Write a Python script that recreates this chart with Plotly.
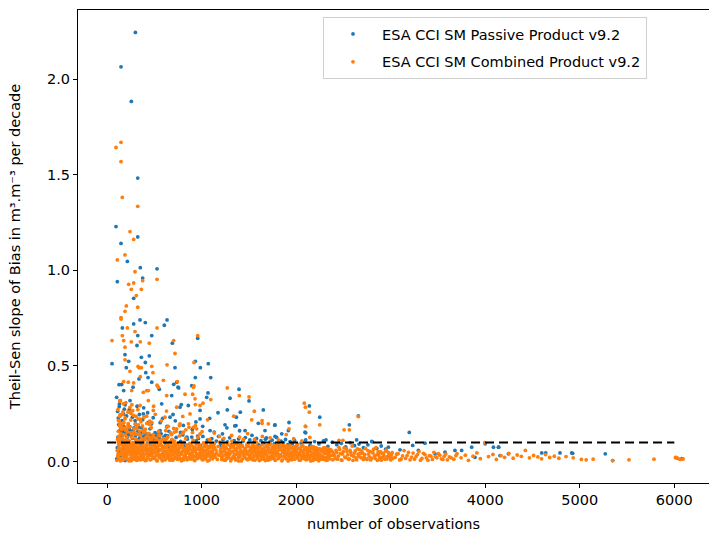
import plotly.graph_objects as go

# ---------------- data ----------------
# ESA CCI SM Passive Product v9.2 (blue)
passive_n_high = [300, 148, 257, 325, 95, 325, 148, 215, 352, 529, 377, 109, 282, 349, 282, 405, 635, 606, 162, 325,
                  473, 691, 959, 317, 190, 363, 447, 229, 405, 934, 1071, 53, 204, 719, 987, 410, 434, 934, 1097, 127,
                  338, 705, 758, 553, 1396, 176, 1068, 1301, 1502, 2140, 786, 1174, 1272, 1410, 1368, 1653, 1925, 1774, 2101, 2250,
                  2658, 2563, 3197, 155, 275, 473, 737, 896, 751, 684, 860, 772, 984, 578, 1054, 243, 102, 173, 384, 437,
                  666, 984, 331, 561, 155, 1248, 1364, 1600, 2094, 1848, 1918, 1090, 1460, 1671, 1777]
passive_s_high = [2.245, 2.065, 1.884, 1.483, 1.229, 1.175, 1.141, 1.047, 1.014, 1.008, 0.960, 0.941, 0.854, 0.741, 0.720, 0.727, 0.741, 0.713, 0.699, 0.659,
                  0.659, 0.619, 0.645, 0.607, 0.559, 0.545, 0.553, 0.524, 0.518, 0.524, 0.512, 0.512, 0.491, 0.491, 0.491, 0.465, 0.439, 0.439, 0.439, 0.402,
                  0.432, 0.404, 0.385, 0.378, 0.378, 0.371, 0.359, 0.331, 0.317, 0.291, 0.298, 0.255, 0.270, 0.258, 0.232, 0.270, 0.204, 0.190, 0.150, 0.232,
                  0.238, 0.192, 0.152, 0.403, 0.389, 0.415, 0.415, 0.397, 0.389, 0.345, 0.293, 0.284, 0.267, 0.302, 0.336, 0.319, 0.336, 0.249, 0.249, 0.205,
                  0.232, 0.223, 0.179, 0.162, 0.136, 0.192, 0.188, 0.200, 0.153, 0.145, 0.162, 0.162, 0.162, 0.162, 0.192]

passive_n_mid = [112, 163, 131, 228, 119, 297, 146, 388, 174, 255,
                 137, 471, 204, 342, 124, 589, 183, 276, 158, 430,
                 241, 655, 192, 512, 365, 149, 722, 318, 216, 455,
                 807, 268, 541, 129, 903, 377, 618, 235, 1012, 488,
                 168, 698, 301, 1134, 412, 845, 562, 1268, 207, 958,
                 1402, 634, 1086, 1533, 778, 1221, 1687, 1351, 940, 1777]
passive_s_mid = [0.262, 0.188, 0.301, 0.143, 0.227, 0.214, 0.176, 0.281, 0.249, 0.156,
                 0.318, 0.197, 0.139, 0.246, 0.193, 0.226, 0.274, 0.163, 0.214, 0.255,
                 0.182, 0.158, 0.297, 0.134, 0.177, 0.245, 0.213, 0.289, 0.152, 0.171,
                 0.189, 0.232, 0.149, 0.287, 0.168, 0.219, 0.137, 0.271, 0.184, 0.229,
                 0.158, 0.246, 0.197, 0.154, 0.142, 0.128, 0.203, 0.176, 0.238, 0.133,
                 0.161, 0.184, 0.226, 0.137, 0.152, 0.145, 0.124, 0.186, 0.207, 0.131]

passive_n_band = [102, 109, 116, 125, 133, 141, 148, 157, 165, 172, 180, 189, 197, 204, 213, 221, 228, 236, 245, 253,
                  261, 270, 277, 285, 294, 302, 310, 319, 327, 335, 344, 352, 360, 369, 377, 386, 394, 402, 411, 419,
                  428, 437, 446, 455, 463, 472, 481, 490, 499, 508, 517, 526, 536, 545, 554, 563, 572, 581, 590, 600,
                  618, 641, 662, 687, 709, 731, 755, 778, 802, 826, 849, 873, 896, 919, 943, 967, 990, 1014, 1038, 1061,
                  1085, 1108, 1132, 1156, 1179, 1203, 1226, 1250, 1274, 1297, 1321, 1345, 1368, 1392, 1416, 1439, 1463, 1486, 1510, 1534,
                  1557, 1581, 1605, 1628, 1652, 1676, 1699, 1723, 1747, 1770, 1794, 1818, 1841, 1865, 1888, 1912, 1936, 1959, 1983, 2007,
                  2054, 2101, 2148, 2195, 2242, 2289, 2336, 2383, 2430, 2477, 2524, 2571, 2618, 2665, 2712, 2759, 2806, 2853, 2900, 2947,
                  105, 138, 190, 261, 473, 754, 860, 984, 3293, 3469, 3575, 3680, 3751, 3857, 3892, 4000, 4087, 4140, 4156, 4245,
                  4143, 4598, 4640, 4791, 4915, 4925, 5270, 5348, 2870, 2975, 3099, 3233, 3363, 2316, 2640, 2800, 6020, 6080]
passive_s_band = [0.014, 0.072, 0.128, 0.043, 0.161, 0.098, 0.027, 0.143, 0.117, 0.061, 0.182, 0.089, 0.152, 0.034, 0.127, 0.074, 0.106, 0.168, 0.052, 0.139,
                  0.084, 0.121, 0.047, 0.176, 0.099, 0.136, 0.018, 0.113, 0.158, 0.067, 0.124, 0.092, 0.149, 0.039, 0.107, 0.133, 0.078, 0.118, 0.057, 0.144,
                  0.095, 0.123, 0.061, 0.138, 0.106, 0.083, 0.129, 0.046, 0.112, 0.151, 0.076, 0.104, 0.133, 0.058, 0.121, 0.089, 0.145, 0.109, 0.068, 0.127,
                  0.097, 0.134, 0.074, 0.112, 0.088, 0.126, 0.063, 0.105, 0.139, 0.081, 0.117, 0.092, 0.128, 0.069, 0.108, 0.121, 0.084, 0.131, 0.096, 0.112,
                  0.078, 0.119, 0.093, 0.107, 0.131, 0.086, 0.114, 0.072, 0.102, 0.124, 0.089, 0.109, 0.097, 0.118, 0.083, 0.106, 0.125, 0.091, 0.113, 0.076,
                  0.104, 0.121, 0.087, 0.109, 0.096, 0.117, 0.081, 0.103, 0.112, 0.094, 0.126, 0.085, 0.107, 0.099, 0.115, 0.088, 0.104, 0.093, 0.111, 0.082,
                  0.097, 0.113, 0.085, 0.104, 0.092, 0.108, 0.079, 0.101, 0.088, 0.095, 0.076, 0.099, 0.083, 0.091, 0.072, 0.087, 0.103, 0.069, 0.081, 0.064,
                  0.010, 0.050, 0.005, 0.075, 0.058, 0.049, 0.075, 0.022, 0.058, 0.040, 0.049, 0.058, 0.058, 0.075, 0.022, 0.093, 0.075, 0.075, 0.031, 0.040,
                  0.075, 0.045, 0.045, 0.045, 0.045, 0.043, 0.040, 0.005, 0.040, 0.075, 0.061, 0.084, 0.096, 0.113, 0.113, 0.105, 0.020, 0.015]

# ESA CCI SM Combined Product v9.2 (orange)
combined_n_high = [148, 95, 148, 162, 325, 243, 282, 190, 109, 296, 377, 529, 229, 282, 257, 363, 310, 204, 325, 190,
                   148, 148, 529, 215, 296, 162, 176, 53, 257, 352, 447, 705, 959, 190, 719, 190, 920, 328, 340, 473,
                   635, 243, 363, 486, 352, 176, 282, 596, 744, 913, 920, 529, 1272, 420, 437, 134, 825, 906, 1399, 1502,
                   1097, 2087, 2140, 934, 1015, 1340, 1530, 1558, 1640, 1640, 1706, 1925, 2101, 2098, 2658, 2098, 2250, 2507, 2563, 2454,
                   2495, 225, 261, 384, 543, 631, 931, 437, 173, 349, 737, 490, 243, 984, 878, 613, 190, 473, 772, 137,
                   314, 913, 631, 384, 807, 984]
combined_s_high = [1.670, 1.643, 1.569, 1.382, 1.335, 1.203, 1.162, 1.081, 1.055, 0.993, 0.946, 0.953, 0.927, 0.934, 0.901, 0.901, 0.868, 0.814, 0.807, 0.786,
                   0.753, 0.745, 0.699, 0.699, 0.680, 0.659, 0.633, 0.633, 0.626, 0.626, 0.619, 0.633, 0.659, 0.598, 0.565, 0.532, 0.518, 0.497, 0.490, 0.498,
                   0.506, 0.472, 0.491, 0.465, 0.444, 0.418, 0.411, 0.425, 0.418, 0.388, 0.395, 0.399, 0.385, 0.371, 0.371, 0.317, 0.352, 0.352, 0.345, 0.338,
                   0.324, 0.305, 0.258, 0.298, 0.305, 0.237, 0.218, 0.263, 0.214, 0.200, 0.197, 0.171, 0.183, 0.284, 0.235, 0.185, 0.192, 0.166, 0.166, 0.111,
                   0.111, 0.415, 0.371, 0.362, 0.389, 0.345, 0.328, 0.319, 0.302, 0.293, 0.284, 0.267, 0.258, 0.293, 0.249, 0.232, 0.223, 0.205, 0.197, 0.197,
                   0.188, 0.179, 0.179, 0.162, 0.153, 0.145]

combined_n_mid = [115, 224, 142, 307, 168, 401, 128, 263, 511, 186,
                  352, 155, 629, 242, 448, 199, 287, 736, 137, 574,
                  326, 215, 862, 419, 175, 683, 272, 1006, 493, 147,
                  801, 388, 1135, 254, 935, 549, 1063, 331, 712, 1187]
combined_s_mid = [0.271, 0.198, 0.318, 0.236, 0.259, 0.152, 0.213, 0.297, 0.247, 0.176,
                  0.221, 0.168, 0.264, 0.283, 0.195, 0.308, 0.143, 0.171, 0.244, 0.213,
                  0.271, 0.155, 0.197, 0.237, 0.204, 0.142, 0.266, 0.156, 0.289, 0.181,
                  0.236, 0.163, 0.149, 0.251, 0.188, 0.138, 0.218, 0.192, 0.154, 0.131]

combined_n_band = [104, 118, 123, 131, 139, 146, 152, 160, 167, 171, 178, 186, 193, 199, 205, 212, 219, 224, 231, 238,
                   243, 249, 256, 263, 268, 274, 281, 287, 294, 300, 306, 313, 319, 326, 332, 339, 345, 351, 358, 364,
                   371, 377, 384, 390, 397, 403, 410, 416, 423, 429, 436, 442, 449, 455, 462, 468, 475, 481, 488, 494,
                   501, 507, 514, 520, 527, 533, 540, 546, 553, 559, 566, 572, 579, 585, 592, 598, 121, 135, 149, 163,
                   177, 191, 206, 221, 236, 251, 266, 282, 297, 313, 328, 344, 359, 375, 390, 406, 421, 437, 452, 468,
                   114, 128, 142, 156, 170, 184, 198, 213, 227, 241, 255, 270, 284, 298, 312, 326, 341, 355, 369, 383,
                   604, 611, 617, 624, 630, 637, 643, 650, 656, 663, 669, 676, 682, 689, 695, 702, 708, 715, 721, 728,
                   734, 741, 747, 754, 760, 767, 773, 780, 786, 793, 799, 806, 812, 819, 825, 832, 838, 845, 851, 858,
                   864, 871, 877, 884, 890, 897, 903, 910, 916, 923, 929, 936, 942, 949, 955, 962, 968, 975, 981, 988,
                   994, 1001, 1007, 1014, 1020, 1027, 1034, 1041, 1049, 1056, 1063, 1071, 1078, 1085, 1093, 1100, 1107, 1115, 1122, 1130,
                   1137, 1145, 1152, 1160, 1167, 1175, 1182, 1190, 1197, 620, 648, 672, 705, 733, 766, 798, 833, 867, 904, 948,
                   1205, 1213, 1221, 1228, 1236, 1244, 1251, 1259, 1267, 1274, 1282, 1290, 1297, 1305, 1313, 1320, 1328, 1336, 1343, 1351,
                   1359, 1366, 1374, 1382, 1389, 1397, 1405, 1412, 1420, 1428, 1435, 1443, 1451, 1458, 1466, 1474, 1481, 1489, 1497, 1504,
                   1512, 1520, 1527, 1535, 1543, 1550, 1558, 1566, 1573, 1581, 1589, 1596, 1604, 1612, 1619, 1627, 1635, 1642, 1650, 1658,
                   1665, 1673, 1681, 1688, 1696, 1704, 1711, 1719, 1727, 1734, 1742, 1750, 1757, 1765, 1773, 1780, 1788, 1796, 1803, 1811,
                   1819, 1826, 1834, 1842, 1849, 1857, 1865, 1872, 1880, 1888, 1895, 1903, 1911, 1918, 1926, 1934, 1941, 1949, 1957, 1964,
                   1972, 1980, 1987, 1995, 2003, 2010, 2018, 2026, 2033, 2041, 2049, 2056, 2064, 2072, 2079, 2087, 2095, 2102, 2110, 2118,
                   2125, 2133, 2141, 2148, 2156, 2164, 2171, 2179, 2187, 2194, 2202, 2210, 2217, 2225, 2233, 2240, 2248, 2256, 2263, 2271,
                   2279, 2286, 2294, 2302, 2309, 2317, 2325, 2332, 2340, 2348, 1236, 1318, 1402, 1487, 1561, 1643, 1725, 1812, 1895, 1974,
                   2062, 2145,
                   2405, 2421, 2437, 2452, 2468, 2484, 2499, 2515, 2531, 2546, 2562, 2578, 2593, 2609, 2625, 2640, 2656, 2672, 2687, 2703,
                   2719, 2734, 2750, 2766, 2781, 2797, 2813, 2828, 2844, 2860, 2875, 2891, 2907, 2922, 2938, 2954, 2969, 2985, 3001, 3016,
                   3048, 3079, 3111, 3142, 3174, 3205, 3237, 3268, 3300, 3331, 3363, 3394, 3426, 3457, 3489, 3520, 3552, 3583,
                   3621, 3668, 3702, 3745, 3790, 3823, 3871, 3912, 3948, 3996, 4035, 4082, 4118, 4167, 4205, 4251, 4296, 4338, 4382, 4425,
                   4468, 4512, 4557, 4596, 4638, 4682, 4731, 4779,
                   4855, 4931, 5017, 5068, 5142, 5348, 5521, 5785, 6012, 6038, 6061, 6093]
combined_s_band = [0.006, 0.041, 0.087, 0.018, 0.122, 0.063, 0.009, 0.171, 0.034, 0.096, 0.052, 0.014, 0.138, 0.075, 0.027, 0.109, 0.058, 0.191, 0.004, 0.083,
                   0.047, 0.016, 0.128, 0.069, 0.031, 0.098, 0.011, 0.154, 0.056, 0.022, 0.117, 0.073, 0.039, 0.008, 0.094, 0.142, 0.061, 0.025, 0.105, 0.044,
                   0.013, 0.081, 0.163, 0.037, 0.071, 0.005, 0.124, 0.052, 0.019, 0.089, 0.035, 0.147, 0.066, 0.009, 0.101, 0.043, 0.078, 0.024, 0.132, 0.057,
                   0.017, 0.092, 0.046, 0.118, 0.007, 0.069, 0.033, 0.157, 0.083, 0.021, 0.061, 0.112, 0.038, 0.004, 0.077, 0.049, 0.214, 0.236, 0.188, 0.247,
                   0.203, 0.228, 0.166, 0.259, 0.181, 0.217, 0.149, 0.241, 0.196, 0.174, 0.223, 0.159, 0.208, 0.186, 0.232, 0.169, 0.199, 0.145, 0.211, 0.177,
                   0.029, 0.064, 0.003, 0.052, 0.077, 0.025, 0.046, 0.089, 0.061, 0.012, 0.071, 0.037, 0.084, 0.048, 0.006, 0.066, 0.018, 0.079, 0.053, 0.027,
                   0.035, 0.008, 0.072, 0.051, 0.119, 0.023, 0.088, 0.044, 0.014, 0.097, 0.062, 0.029, 0.141, 0.055, 0.006, 0.078, 0.038, 0.107, 0.017, 0.066,
                   0.047, 0.093, 0.011, 0.058, 0.026, 0.134, 0.074, 0.039, 0.004, 0.085, 0.052, 0.019, 0.101, 0.067, 0.032, 0.121, 0.045, 0.009, 0.076, 0.056,
                   0.021, 0.064, 0.095, 0.036, 0.013, 0.082, 0.049, 0.112, 0.027, 0.069, 0.005, 0.058, 0.091, 0.041, 0.017, 0.127, 0.072, 0.034, 0.086, 0.053,
                   0.024, 0.068, 0.041, 0.009, 0.097, 0.057, 0.018, 0.083, 0.036, 0.062, 0.003, 0.075, 0.047, 0.115, 0.029, 0.088, 0.052, 0.014, 0.071, 0.039,
                   0.094, 0.022, 0.061, 0.045, 0.011, 0.079, 0.033, 0.101, 0.055, 0.162, 0.184, 0.151, 0.173, 0.158, 0.188, 0.147, 0.166, 0.179, 0.152, 0.171,
                   0.042, 0.011, 0.074, 0.029, 0.089, 0.054, 0.006, 0.068, 0.035, 0.097, 0.019, 0.061, 0.045, 0.082, 0.013, 0.107, 0.051, 0.026, 0.071, 0.038,
                   0.008, 0.063, 0.091, 0.047, 0.021, 0.076, 0.034, 0.058, 0.003, 0.086, 0.043, 0.115, 0.027, 0.066, 0.052, 0.014, 0.079, 0.039, 0.094, 0.024,
                   0.057, 0.017, 0.072, 0.044, 0.009, 0.083, 0.031, 0.062, 0.049, 0.101, 0.022, 0.068, 0.037, 0.005, 0.077, 0.053, 0.026, 0.088, 0.041, 0.064,
                   0.013, 0.046, 0.081, 0.033, 0.059, 0.007, 0.071, 0.024, 0.092, 0.048, 0.016, 0.065, 0.038, 0.084, 0.011, 0.055, 0.029, 0.073, 0.043, 0.097,
                   0.021, 0.062, 0.036, 0.078, 0.004, 0.051, 0.087, 0.027, 0.067, 0.042, 0.014, 0.074, 0.033, 0.058, 0.009, 0.083, 0.046, 0.019, 0.066, 0.031,
                   0.053, 0.012, 0.077, 0.038, 0.061, 0.024, 0.089, 0.045, 0.007, 0.068, 0.031, 0.056, 0.017, 0.081, 0.042, 0.063, 0.026, 0.072, 0.009, 0.049,
                   0.034, 0.069, 0.015, 0.052, 0.028, 0.079, 0.041, 0.006, 0.061, 0.023, 0.047, 0.071, 0.013, 0.037, 0.058, 0.004, 0.066, 0.032, 0.019, 0.054,
                   0.027, 0.062, 0.011, 0.043, 0.071, 0.021, 0.049, 0.008, 0.036, 0.058, 0.121, 0.137, 0.128, 0.146, 0.117, 0.131, 0.124, 0.113, 0.141, 0.119,
                   0.108, 0.126,
                   0.031, 0.058, 0.012, 0.074, 0.041, 0.006, 0.052, 0.023, 0.067, 0.035, 0.014, 0.047, 0.081, 0.027, 0.055, 0.009, 0.038, 0.062, 0.019, 0.044,
                   0.024, 0.068, 0.011, 0.039, 0.053, 0.017, 0.045, 0.029, 0.072, 0.006, 0.034, 0.051, 0.021, 0.043, 0.013, 0.059, 0.027, 0.038, 0.008, 0.046,
                   0.022, 0.041, 0.013, 0.057, 0.031, 0.009, 0.044, 0.025, 0.052, 0.016, 0.036, 0.007, 0.028, 0.048, 0.019, 0.033, 0.011, 0.039,
                   0.024, 0.012, 0.041, 0.019, 0.033, 0.006, 0.028, 0.045, 0.015, 0.098, 0.026, 0.037, 0.011, 0.031, 0.022, 0.043, 0.017, 0.034, 0.027, 0.058,
                   0.019, 0.032, 0.024, 0.014, 0.036, 0.021, 0.028, 0.017,
                   0.026, 0.019, 0.011, 0.009, 0.012, 0.005, 0.009, 0.012, 0.021, 0.016, 0.011, 0.013]

combined_n_dense = [108, 115, 121, 127, 134, 140, 147, 153, 159, 166, 173, 179, 185, 192, 198, 204, 210, 217, 223, 230,
                    236, 242, 248, 255, 261, 267, 274, 280, 287, 293, 299, 305, 312, 318, 324, 331, 337, 343, 350, 356,
                    363, 369, 375, 382, 388, 395, 401, 407, 414, 420, 427, 433, 439, 446, 452, 459, 465, 471, 478, 484,
                    491, 497, 503, 510, 516, 523, 529, 535, 542, 548, 555, 561, 567, 574, 580, 587, 593, 600, 606, 613,
                    619, 626, 632, 639, 645, 652, 658, 665, 671, 678, 684, 691, 697, 704, 710, 717, 723, 730, 736, 743,
                    749, 756, 762, 769, 776, 782, 789, 795, 802, 808, 815, 821, 828, 834, 841, 847, 854, 861, 867, 874,
                    880, 887, 893, 900, 907, 913, 920, 926, 933, 940, 946, 953, 959, 966, 973, 979, 986, 992, 999, 1006,
                    1012, 1019, 1026, 1032, 1039, 1046, 1052, 1059, 1066, 1072, 1079, 1086, 1092, 1099, 1106, 1113, 1120, 1127, 1134, 1141,
                    1203, 1210, 1218, 1225, 1233, 1240, 1248, 1255, 1263, 1270, 1278, 1285, 1293, 1300, 1308, 1315, 1323, 1330, 1338, 1345,
                    1353, 1360, 1368, 1375, 1383, 1390, 1398, 1405, 1413, 1420, 1428, 1435, 1443, 1450, 1458, 1465, 1473, 1480, 1488, 1495,
                    1503, 1510, 1518, 1525, 1533, 1540, 1548, 1555, 1563, 1570, 1578, 1585, 1593, 1600, 1608, 1615, 1623, 1630, 1638, 1645,
                    1653, 1660, 1668, 1675, 1683, 1690, 1698, 1705, 1713, 1720, 1728, 1735, 1743, 1750, 1758, 1765, 1773, 1780, 1788, 1795,
                    1803, 1810, 1818, 1825, 1833, 1840, 1848, 1855, 1863, 1870, 1878, 1885, 1893, 1900, 1908, 1915, 1923, 1930, 1938, 1945,
                    1953, 1960, 1968, 1975, 1983, 1990, 1998, 2005, 2013, 2020, 2028, 2035, 2043, 2050, 2058, 2065, 2073, 2080, 2088, 2095,
                    2103, 2110, 2118, 2125, 2133, 2140, 2148, 2155, 2163, 2170, 2178, 2185, 2193, 2200, 2208, 2215, 2223, 2230, 2238, 2245,
                    2253, 2260, 2268, 2275, 2283, 2290, 2298, 2305, 2313, 2320, 2328, 2335, 2343, 2350, 2358, 2365, 2373, 2380, 2388, 2395,
                    2412, 2429, 2445, 2460, 2476, 2491, 2507, 2523, 2538, 2554, 2570, 2585, 2601, 2617, 2632, 2648, 2664, 2679, 2695, 2711,
                    2726, 2742, 2758, 2773, 2789, 2805, 2820, 2836, 2852, 2867, 2883, 2899, 2914, 2930, 2946, 2961, 2977, 2993, 3008, 3024,
                    3063, 3095, 3126, 3158, 3189, 3221, 3252, 3284, 3315, 3347, 3378, 3410, 3441, 3473, 3504, 3536, 3567, 3599, 3640, 3690,
                    112, 119, 126, 132, 139, 145, 151, 158, 164, 171, 183, 196, 209, 222, 238, 253, 269, 286, 302, 318,
                    335, 352, 368, 385, 402, 419, 436, 453, 470, 488, 505, 522, 541, 560, 579, 598, 619, 641, 664, 688]
combined_s_dense = [0.058, 0.026, 0.101, 0.072, 0.037, 0.089, 0.015, 0.064, 0.043, 0.007, 0.079, 0.031, 0.056, 0.094, 0.019, 0.068, 0.041, 0.083, 0.012, 0.049,
                    0.073, 0.035, 0.091, 0.004, 0.057, 0.022, 0.086, 0.045, 0.069, 0.013, 0.038, 0.077, 0.028, 0.092, 0.051, 0.016, 0.074, 0.042, 0.063, 0.009,
                    0.029, 0.067, 0.048, 0.097, 0.014, 0.059, 0.036, 0.082, 0.006, 0.071, 0.044, 0.023, 0.088, 0.054, 0.032, 0.076, 0.011, 0.062, 0.039, 0.085,
                    0.047, 0.018, 0.066, 0.081, 0.029, 0.054, 0.003, 0.076, 0.041, 0.093, 0.022, 0.059, 0.035, 0.084, 0.012, 0.068, 0.044, 0.026, 0.079, 0.053,
                    0.012, 0.073, 0.043, 0.025, 0.089, 0.061, 0.034, 0.007, 0.079, 0.048, 0.018, 0.065, 0.093, 0.037, 0.056, 0.021, 0.084, 0.045, 0.068, 0.031,
                    0.062, 0.028, 0.081, 0.047, 0.015, 0.073, 0.039, 0.091, 0.056, 0.008, 0.069, 0.033, 0.052, 0.022, 0.087, 0.044, 0.064, 0.013, 0.077, 0.036,
                    0.043, 0.087, 0.019, 0.061, 0.034, 0.076, 0.009, 0.053, 0.072, 0.027, 0.041, 0.093, 0.016, 0.064, 0.038, 0.081, 0.024, 0.057, 0.045, 0.011,
                    0.068, 0.031, 0.054, 0.079, 0.014, 0.046, 0.088, 0.025, 0.063, 0.037, 0.006, 0.071, 0.049, 0.019, 0.083, 0.042, 0.058, 0.028, 0.074, 0.035,
                    0.066, 0.023, 0.049, 0.081, 0.008, 0.057, 0.034, 0.072, 0.016, 0.045, 0.088, 0.027, 0.063, 0.039, 0.004, 0.074, 0.052, 0.019, 0.084, 0.031,
                    0.018, 0.059, 0.037, 0.071, 0.044, 0.003, 0.083, 0.026, 0.061, 0.049, 0.012, 0.078, 0.035, 0.055, 0.021, 0.067, 0.041, 0.089, 0.009, 0.053,
                    0.077, 0.033, 0.014, 0.064, 0.047, 0.086, 0.024, 0.058, 0.007, 0.069, 0.038, 0.082, 0.016, 0.051, 0.029, 0.073, 0.043, 0.011, 0.062, 0.036,
                    0.028, 0.071, 0.054, 0.005, 0.039, 0.079, 0.019, 0.066, 0.045, 0.087, 0.013, 0.057, 0.032, 0.075, 0.023, 0.048, 0.068, 0.006, 0.041, 0.083,
                    0.052, 0.015, 0.069, 0.036, 0.084, 0.027, 0.061, 0.009, 0.047, 0.074, 0.031, 0.056, 0.018, 0.081, 0.042, 0.003, 0.065, 0.025, 0.072, 0.038,
                    0.009, 0.046, 0.077, 0.029, 0.062, 0.014, 0.053, 0.085, 0.034, 0.019, 0.067, 0.043, 0.006, 0.059, 0.079, 0.022, 0.048, 0.037, 0.064, 0.012,
                    0.061, 0.024, 0.041, 0.071, 0.015, 0.054, 0.032, 0.003, 0.066, 0.044, 0.021, 0.076, 0.037, 0.057, 0.011, 0.049, 0.069, 0.028, 0.042, 0.017,
                    0.035, 0.063, 0.012, 0.051, 0.027, 0.071, 0.043, 0.019, 0.058, 0.006, 0.039, 0.066, 0.024, 0.047, 0.014, 0.062, 0.031, 0.054, 0.009, 0.041,
                    0.016, 0.047, 0.028, 0.063, 0.009, 0.039, 0.071, 0.021, 0.052, 0.012, 0.058, 0.033, 0.006, 0.044, 0.019, 0.066, 0.026, 0.041, 0.054, 0.011,
                    0.037, 0.014, 0.057, 0.025, 0.008, 0.048, 0.064, 0.016, 0.035, 0.051, 0.019, 0.007, 0.042, 0.029, 0.055, 0.013, 0.046, 0.021, 0.034, 0.017,
                    0.038, 0.008, 0.029, 0.016, 0.047, 0.023, 0.012, 0.036, 0.007, 0.043, 0.019, 0.031, 0.011, 0.026, 0.041, 0.014, 0.028, 0.009, 0.019, 0.031,
                    0.115, 0.158, 0.132, 0.187, 0.104, 0.146, 0.173, 0.121, 0.198, 0.139, 0.112, 0.165, 0.128, 0.181, 0.107, 0.149, 0.124, 0.172, 0.118, 0.143,
                    0.106, 0.137, 0.119, 0.154, 0.113, 0.131, 0.108, 0.126, 0.116, 0.141, 0.102, 0.122, 0.111, 0.134, 0.105, 0.119, 0.109, 0.127, 0.103, 0.115]

threshold_n = [0, 6000]
threshold_s = [0.1, 0.1]

x_ticks = [0, 1000, 2000, 3000, 4000, 5000, 6000]
y_ticks = [0.0, 0.5, 1.0, 1.5, 2.0]

passive_n = passive_n_high + passive_n_mid + passive_n_band
passive_s = passive_s_high + passive_s_mid + passive_s_band
combined_n = combined_n_high + combined_n_mid + combined_n_band + combined_n_dense
combined_s = combined_s_high + combined_s_mid + combined_s_band + combined_s_dense

FONT = "DejaVu Sans"

fig = go.Figure()
fig.add_trace(go.Scatter(
    x=passive_n, y=passive_s, mode="markers", name="ESA CCI SM Passive Product v9.2",
    marker=dict(color="#1f77b4", size=3.8, line=dict(width=0)), legendgroup="a"))
fig.add_trace(go.Scatter(
    x=combined_n, y=combined_s, mode="markers", name="ESA CCI SM Combined Product v9.2",
    marker=dict(color="#ff7f0e", size=3.8, line=dict(width=0)), legendgroup="b"))
fig.add_trace(go.Scatter(
    x=threshold_n, y=threshold_s, mode="lines", showlegend=False,
    line=dict(color="black", width=2, dash="9px,5px")))

axis_common = dict(
    showgrid=False, zeroline=False, showline=True, linecolor="black", linewidth=1,
    ticks="outside", ticklen=4, tickwidth=1, tickcolor="black",
    tickfont=dict(family=FONT, size=14.5, color="black"), automargin=False,
)

fig.update_layout(
    width=709, height=541,
    margin=dict(l=78, r=0, t=10, b=58),
    paper_bgcolor="white", plot_bgcolor="white",
    font=dict(family=FONT, size=14.5, color="black"),
    xaxis=dict(range=[-307, 6367], tickvals=x_ticks, ticktext=[str(v) for v in x_ticks], mirror=True,
               title=dict(text="number of observations", font=dict(family=FONT, size=14.5), standoff=11),
               **axis_common),
    yaxis=dict(range=[-0.1125, 2.3625], tickvals=y_ticks, ticktext=[f"{v:.1f}" for v in y_ticks], mirror=False,
               title=dict(text="Theil-Sen slope of Bias in m³.m⁻³ per decade", font=dict(family=FONT, size=14.5), standoff=22),
               **axis_common),
    legend=dict(x=(323 - 78) / 631, xanchor="left", y=(483 - 17) / 473, yanchor="top",
                bordercolor="#d0d0d0", borderwidth=1, bgcolor="rgba(255,255,255,0.8)",
                font=dict(family=FONT, size=14.5, color="black"), itemwidth=48, tracegroupgap=6),
    showlegend=True,
)

fig.write_html("out.html")
